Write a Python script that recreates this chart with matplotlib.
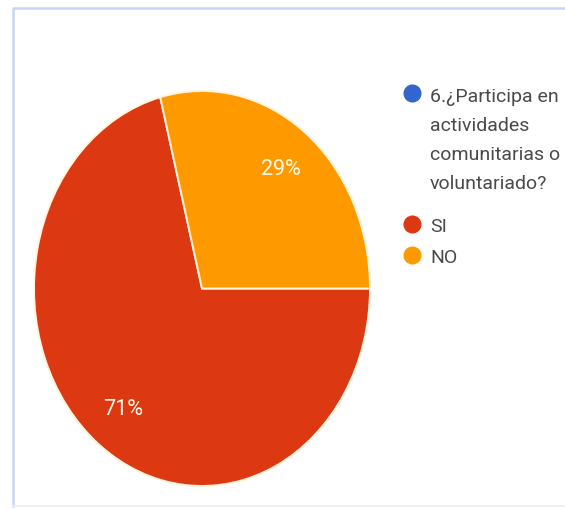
import matplotlib.pyplot as plt
from matplotlib.lines import Line2D

# respuestas a la pregunta 6
question = ["6.¿Participa en", "actividades", "comunitarias o", "voluntariado?"]
answers = ["SI", "NO"]
shares = [71, 29]
colors = ["#dc3912", "#ff9900"]
question_color = "#3366cc"

W, H = 565, 510
plt.rcParams["font.family"] = ["Roboto", "DejaVu Sans"]

fig = plt.figure(figsize=(W / 100, H / 100), dpi=100)


def fx(px):
    return px / W


def fy(py):
    return 1 - py / H


# marco azul claro: arriba e izquierda marcados, abajo muy tenue
frame = "#c8d5f2"
fig.add_artist(Line2D([fx(13), fx(13), 1], [fy(507), fy(9), fy(9)],
                      color=frame, linewidth=1.8, transform=fig.transFigure))
fig.add_artist(Line2D([fx(13), 1], [fy(507), fy(507)],
                      color="#e6ecf8", linewidth=1.2, transform=fig.transFigure))

ax = fig.add_axes([fx(34), fy(487), fx(370) - fx(34), fy(92) - fy(487)])
wedges, texts, autotexts = ax.pie(
    shares, colors=colors, startangle=104.4, counterclock=True,
    autopct="%1.0f%%", pctdistance=0.77,
    wedgeprops=dict(edgecolor="#fff4dc", linewidth=1.4),
    textprops=dict(color="#fffbea", fontsize=15.5))
ax.set_aspect("auto")
ax.set_xlim(-1, 1)
ax.set_ylim(-1, 1)

# leyenda a la derecha
text_color = "#4a4a4a"
fig.add_artist(Line2D([fx(412)], [fy(94)], marker="o", markersize=12,
                      color=question_color, transform=fig.transFigure))
for i, line in enumerate(question):
    fig.text(fx(430), fy(102 + 29 * i), line, fontsize=14,
             color=text_color, va="baseline", ha="left")

for name, col, ypx in zip(answers, colors, [225, 256]):
    fig.add_artist(Line2D([fx(412)], [fy(ypx)], marker="o", markersize=12,
                          color=col, transform=fig.transFigure))
    fig.text(fx(430), fy(ypx + 7), name, fontsize=14,
             color=text_color, va="baseline", ha="left")

fig.savefig("out.png", dpi=100)
